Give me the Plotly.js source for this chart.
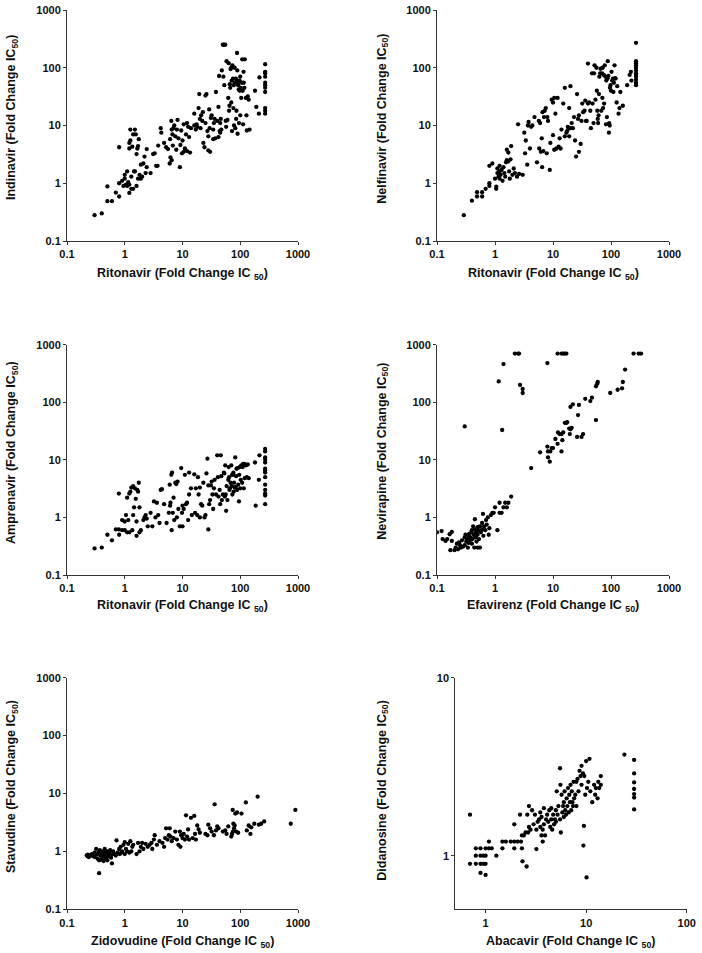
<!DOCTYPE html>
<html>
<head>
<meta charset="utf-8">
<script src="https://cdn.plot.ly/plotly-3.0.1.min.js"></script>
<style>html,body{margin:0;padding:0;background:#fff;}#chart{width:702px;height:953px;}</style>
</head>
<body>
<div id="chart"></div>
<script>
// ---- DATA (fold change IC50 pairs: [x, y]) ----
const ritonavirIndinavir = [
[0.3,0.28],[0.4,0.3],[0.5,0.88],[0.5,0.49],[0.6,0.49],[0.7,0.69],[0.8,0.59],[0.8,1.0],[0.8,4.2],[0.9,1.1],[0.95,0.9],
[1.0,1.2],[1.0,1.4],[1.05,0.95],[1.1,1.6],[1.1,0.9],[1.15,1.05],[1.2,0.68],[1.2,0.95],[1.2,4.0],[1.2,5.0],[1.25,5.5],[1.25,8.5],[1.3,0.8],[1.3,1.3],[1.35,4.3],[1.4,7.0],[1.4,0.8],[1.45,1.6],[1.5,8.5],[1.5,1.6],[1.55,7.0],[1.6,3.2],[1.6,0.9],[1.65,4.0],[1.7,4.4],[1.7,1.2],[1.75,5.8],[1.8,1.4],[1.9,2.1],[1.9,1.2],[2.0,1.3],[2.1,2.2],[2.2,2.9],[2.3,1.5],[2.4,3.9],[2.4,1.9],
[2.8,1.5],[3.1,3.2],[3.3,3.3],[3.5,2.0],[3.7,2.0],[3.8,4.5],[4.2,9.0],[4.3,7.5],[4.8,5.0],[5.2,4.2],[5.6,3.9],[6.0,2.2],[6.1,5.8],[6.2,2.8],[6.4,12],[6.5,8.5],[6.5,2.5],[6.7,7.0],[6.8,4.5],[7.0,9.0],[7.2,10],[7.5,6.5],[7.8,3.8],[8.0,8.5],[8.2,12.5],[8.5,6.0],[9.0,1.9],[9.2,4.6],[9.5,8.2],[9.8,3.3],[10,5.5],[10.5,10.5],[10.5,3.5],[11,4.0],[11.5,7.0],[12,11],[12,3.6],[12.5,9.5],[13,6.3],[13.5,3.4],[14,9.0],
[16,10],[16,16],[17,8.5],[17.5,10.5],[18,9.5],[19,20],[19.5,35],[20,13],[20.5,9.0],[21,15],[22,12],[22.5,17],[23,5.0],[24,4.2],[25,11],[25,33],[26,35],[27,8.0],[28,6.5],[28,3.7],[29,19],[29.5,9.0],[30,3.5],[31,13.5],[32,15],[34,8.5],[34,5.8],[35,11],[36,13],[37,6.0],[38,38],[40,12],
[42,21],[42,6.3],[43,72],[44,8.0],[45,7.5],[45,11],[46,13],[47,8.5],[48,90],[50,250],[51,70],[52,250],[53,50],[55,250],[56,12],[57,9.5],[58,130],[60,12.5],[62,30],[63,120],[64,18],[65,22],[66,52],[67,45],[68,95],[70,100],[70,25],[71,60],[72,8.0],[73,110],[75,65],[76,20],[77,50],[78,10],[80,100],[80,55],[82,9.0],[84,65],[85,13],[86,18],[87,60],[88,180],[89,90],[90,7.2],[91,55],[92,50],[94,42],[95,11],[97,60],[98,40],[100,15],[100,70],[102,45],[104,30],[106,55],[108,140],[110,40],[112,10.5],[114,85],[115,55],[118,45],[120,140],[125,30],[128,15],[130,8.2],[135,32],[140,28],[145,8.5],[180,40],[190,21],[210,16],[215,68],
[270,115],[270,85],[270,80],[270,55],[270,50],[270,45],[270,38],[270,20],[270,18],[270,16],[270,70]
];
const ritonavirNelfinavir = [
[0.29,0.28],[0.4,0.5],[0.49,0.7],[0.49,0.59],[0.6,0.7],[0.6,0.59],[0.69,0.8],[0.8,1.0],[0.8,0.9],[0.8,2.0],[0.9,2.2],[1.05,0.87],[1.05,0.8],
[1.0,1.2],[1.1,1.5],[1.1,1.8],[1.15,1.3],[1.2,1.6],[1.2,2.0],[1.2,1.2],[1.25,1.4],[1.3,1.7],[1.35,1.1],[1.4,1.9],[1.45,1.5],[1.5,1.3],[1.55,2.3],[1.6,2.5],[1.6,3.8],[1.7,3.4],[1.7,2.4],[1.75,1.6],[1.8,1.2],[1.85,2.6],[1.9,4.4],[2.0,1.4],[2.1,1.8],[2.2,1.5],[2.4,1.3],[2.5,10.5],[2.6,1.45],[3.0,1.4],
[3.2,7.5],[3.3,3.3],[3.4,5.5],[3.6,2.1],[3.7,10],[3.8,11.5],[4.0,4.0],[4.2,9.5],[4.4,10],[4.8,14],[5.3,2.3],[5.7,12],[5.8,4.0],[6.0,11],[6.2,3.5],[6.4,6.0],[6.5,1.9],[6.6,17],[6.8,3.6],[7.0,14],[7.2,18],[7.5,20],[7.8,3.3],[8.0,14],[8.2,12],[8.8,1.7],[9.0,5.0],[9.5,28],[10,6.8],[10,25],[10.5,3.8],[10.5,30],[11,16],[11.5,4.0],[12,30],[12.5,4.3],[13,6.0],[13.5,4.0],[14,8.5],[15,24],[16,45],[16,6.5],[17,7.5],[17.5,8.0],[18,9.5],[18.5,8.8],[19,6.5],[19,20],[20,48],[20,9.0],[21,11],[22,9.0],[23,14],[24,5.5],[25,2.9],[26,35],[27,13],[28,15],[28,3.5],[30,4.8],[31,12],[32,24],[33,17],[35,18],[36,27],[37,12],[38,12],[40,24],[40,118],[42,25],[44,18],[45,9.0],[47,80],[48,24],[50,11],[51,80],[52,110],[54,28],[56,100],[57,40],[58,18],[59,13],[60,11],[61,15],[62,35],[63,70],[65,80],[66,96],[68,18],[70,80],[71,30],[72,100],[73,20],[75,75],[76,24],[78,110],[80,70],[82,10.5],[83,60],[85,14],[87,65],[88,130],[90,72],[92,7.5],[93,11],[95,10],[96,45],[98,50],[100,40],[102,85],[105,60],[108,65],[110,38],[112,55],[115,110],[118,66],[120,65],[125,25],[128,48],[135,16],[140,20],[145,38],[160,22],[190,50],[210,75],[220,85],[225,60],
[270,270],[270,130],[270,120],[270,110],[270,100],[270,90],[270,80],[270,75],[270,70],[270,62],[270,55],[270,50]
];
const ritonavirAmprenavir = [
[0.3,0.29],[0.4,0.3],[0.5,0.5],[0.6,0.4],[0.7,0.62],[0.79,0.62],[0.79,2.6],[0.8,0.5],[0.9,0.9],[0.9,0.6],
[1.0,0.6],[1.0,0.85],[1.05,1.1],[1.1,0.55],[1.1,2.2],[1.15,0.9],[1.2,2.6],[1.2,0.55],[1.25,2.8],[1.3,3.3],[1.35,0.6],[1.4,1.1],[1.4,3.5],[1.45,1.5],[1.5,3.2],[1.55,2.1],[1.6,0.48],[1.6,0.85],[1.65,3.0],[1.7,2.8],[1.75,4.0],[1.8,1.5],[1.8,0.55],[1.9,0.6],[2.1,0.9],[2.2,1.0],[2.3,1.1],[2.4,0.95],[2.5,0.7],[2.8,1.2],[3.0,0.7],[3.2,1.9],[3.4,1.0],[3.6,1.8],[3.8,1.1],[4.0,0.8],[4.2,3.0],[4.4,3.1],[4.8,1.7],[5.3,0.8],[5.8,1.2],[6.0,3.7],[6.1,1.6],[6.2,1.8],[6.4,5.5],[6.5,0.6],[6.6,6.0],[6.8,1.2],[7.0,2.2],[7.2,0.9],[7.5,4.0],[7.8,3.8],[8.0,1.0],[8.2,4.2],[8.5,1.4],[9.0,0.7],[9.5,7.2],[9.8,1.2],[10,0.7],[10,1.6],[10.5,1.4],[11,5.5],[11.5,1.7],[12,1.8],[12.5,0.9],[13,6.0],[13,2.5],[14,3.2],[14.5,1.1],[16,5.6],[16.5,1.2],[17,3.2],[18,1.1],[18.5,5.0],[19,2.5],[20,1.0],[20,3.3],[21,1.7],[22,1.6],[23,4.0],[24,1.0],[25,1.1],[26,5.8],[27,10.5],[28,3.6],[28,0.62],[29,1.7],[30,2.0],[31,3.6],[32,4.2],[33,2.5],[34,1.4],[35,3.2],[36,4.5],[38,2.5],[40,12],[41,5.0],[42,2.3],[44,3.0],[45,1.7],[46,12],[47,5.2],[48,2.0],[50,2.5],[52,6.0],[53,5.8],[54,2.3],[55,8.0],[56,2.5],[57,1.3],[58,3.5],[60,2.0],[62,4.5],[63,7.5],[64,5.0],[65,3.0],[66,3.2],[68,4.0],[70,8.0],[71,3.5],[72,5.5],[73,2.5],[75,5.5],[76,6.0],[77,2.8],[78,4.0],[80,3.3],[82,11],[84,3.4],[85,5.2],[86,7.0],[88,3.0],[90,7.2],[92,3.7],[95,1.9],[96,5.5],[98,7.5],[100,3.2],[102,4.5],[104,8.0],[108,4.0],[110,7.5],[112,8.5],[115,3.2],[118,8.5],[120,4.8],[125,8.0],[130,5.0],[135,8.3],[140,4.8],[180,9.0],[185,1.6],[210,4.5],[215,12],
[270,15.5],[270,14],[270,11],[270,10],[270,9.0],[270,7.0],[270,6.5],[270,6.0],[270,5.0],[270,3.7],[270,3.0],[270,2.6],[270,2.4],[270,1.7]
];
const efavirenzNevirapine = [
[0.1,0.55],[0.12,0.58],[0.125,0.42],[0.14,0.39],[0.15,0.42],[0.17,0.27],[0.165,0.51],[0.18,0.56],[0.18,0.39],
[0.2,0.27],[0.21,0.3],[0.22,0.35],[0.23,0.28],[0.24,0.37],[0.25,0.33],[0.26,0.3],[0.27,0.4],[0.28,0.31],[0.3,0.33],[0.3,0.45],[0.31,0.5],[0.32,0.38],[0.33,0.42],[0.34,0.3],[0.35,0.48],[0.35,0.36],[0.36,0.52],[0.37,0.4],[0.38,0.45],[0.39,0.55],[0.4,0.35],[0.4,0.6],[0.41,0.42],[0.42,0.7],[0.43,0.5],[0.44,0.3],[0.45,0.93],[0.45,0.62],[0.46,0.45],[0.47,0.55],[0.48,0.38],[0.5,0.5],[0.5,0.68],[0.5,0.3],[0.52,0.6],[0.53,0.42],[0.55,0.7],[0.55,0.3],[0.57,0.55],[0.6,0.8],[0.6,0.62],[0.62,1.15],[0.63,0.48],[0.65,0.7],[0.68,0.6],[0.7,0.9],[0.72,0.75],[0.75,1.0],[0.78,0.5],[0.8,0.65],[0.85,1.1],[0.9,1.2],[0.95,1.2],[1.0,1.5],[1.1,0.6],[1.2,1.8],[1.2,1.2],[1.3,1.2],[1.4,1.5],[1.5,1.8],[1.6,1.5],[1.7,1.8],[1.9,2.3],
[0.3,38],[1.16,230],[1.4,460],[1.33,33],[2.2,700],[2.5,700],[2.6,700],[2.7,200],[3.0,170],[3.0,145],[8,480],[12,700],[14,700],[15,700],[16,700],[17,700],
[4.2,7.2],[6.0,13.5],[8,17],[8.2,14],[8.2,11],[8.8,9.3],[9,14],[9.5,16],[10,16],[11,23],[12,19],[12.2,30],[13,28],[14,28],[15,30],[14,14],[14.5,22],[16,44],[17,44],[17.5,45],[19,35],[19.5,28],[20,34],[21,36],[20,83],[22,92],[28,90],[27,60],[26,25],[31,25],[33,28],[36,115],[44,105],[47,120],[55,49],[55,190],[58,210],[59,225],[97,145],[130,165],[155,175],[160,225],[175,370],[245,700],[300,700],[330,700]
];
const zidovudineStavudine = [
[0.22,0.85],[0.23,0.82],[0.23,0.88],[0.24,0.8],[0.25,0.85],[0.27,0.9],[0.28,0.83],[0.3,0.95],[0.3,0.8],[0.32,1.1],[0.33,0.88],[0.34,0.75],[0.35,0.95],[0.36,0.7],[0.36,0.42],[0.37,1.05],[0.38,0.85],[0.39,0.72],[0.4,0.9],[0.41,1.0],[0.42,0.8],[0.43,0.68],[0.44,0.95],[0.45,1.1],[0.46,0.85],[0.47,0.75],[0.48,0.9],[0.5,1.0],[0.5,0.7],[0.52,0.82],[0.54,0.92],[0.56,1.05],[0.58,0.78],[0.6,0.62],[0.6,0.88],[0.63,1.0],[0.66,0.9],[0.7,0.85],[0.72,1.55],[0.75,0.95],[0.8,1.1],[0.82,0.9],[0.85,1.2],[0.88,0.95],[0.9,1.0],[0.95,1.3],[1.0,0.9],[1.0,1.45],[1.05,1.1],[1.1,1.0],[1.15,1.35],[1.2,0.95],[1.25,1.5],[1.3,1.0],[1.35,1.2],[1.4,1.3],[1.6,0.9],[1.7,1.4],[1.8,1.0],[1.9,1.2],[2.0,1.4],[2.1,1.1],[2.3,1.35],[2.5,1.2],[2.7,1.3],[2.9,1.4],[3.0,1.1],[3.2,1.6],[3.3,1.9],[3.6,1.3],[4.0,1.5],[4.5,1.4],[4.8,1.2],[5.0,1.7],[5.2,2.5],[5.5,1.6],[5.8,1.9],[6.0,2.5],[6.2,1.8],[6.5,1.5],[7.0,1.7],[7.5,2.2],[8.0,1.6],[8.5,1.3],[9.0,2.2],[9.2,1.2],[9.5,1.9],[10,1.7],[10.5,2.0],[11,1.6],[11.5,4.2],[12,1.8],[12.5,2.4],[13,1.6],[14,3.8],[15,1.7],[16,4.1],[16.5,2.0],[17,1.6],[18,2.8],[19,2.4],[20,2.1],[25,2.0],[27,1.9],[28,2.9],[30,2.5],[32,2.2],[35,1.9],[36,6.5],[38,2.3],[40,2.7],[42,2.5],[50,2.2],[55,2.3],[58,2.0],[62,2.7],[70,1.8],[72,2.0],[74,5.2],[75,2.2],[76,3.0],[78,2.5],[80,2.8],[82,4.5],[85,2.2],[88,4.7],[92,2.1],[105,4.5],[125,7.0],[130,2.3],[140,2.8],[150,2.0],[155,2.6],[175,3.0],[200,8.8],[210,2.9],[230,3.0],[260,3.3],[750,3.0],[900,5.2]
];
const abacavirDidanosine = [
[0.7,0.9],[0.7,1.7],[0.8,1.1],[0.8,1.0],[0.8,0.9],[0.89,1.1],[0.89,1.0],[0.89,0.9],[0.89,0.8],[0.95,1.0],[0.95,0.9],[1.0,1.1],[1.0,1.0],[1.0,0.9],[1.0,0.78],[1.08,1.2],[1.08,1.1],[1.15,1.1],[1.28,1.0],
[1.47,1.2],[1.47,1.1],[1.59,1.2],[1.78,1.2],[1.93,1.5],[1.93,1.2],[1.93,1.1],[2.08,1.2],[2.2,1.7],[2.25,1.2],[2.3,1.1],[2.3,1.3],[2.33,0.93],[2.4,1.3],[2.5,1.35],[2.56,0.87],[2.6,1.7],[2.65,1.35],[2.7,1.45],[2.7,1.9],[2.8,1.4],[2.9,1.8],[3.0,1.5],[3.1,1.7],[3.2,1.09],[3.2,1.4],[3.3,1.55],[3.4,1.6],[3.5,1.45],[3.5,1.75],[3.6,1.3],[3.6,1.65],[3.7,1.4],[3.7,1.2],[3.8,1.85],[3.8,1.5],[3.9,1.3],[4.0,1.6],[4.1,1.7],[4.2,1.55],[4.3,1.8],[4.4,1.45],[4.5,1.6],[4.5,1.85],[4.6,1.4],[4.7,1.7],[4.8,1.5],[4.9,1.6],[5.0,1.8],[5.0,1.55],[5.1,2.3],[5.2,1.7],[5.3,1.9],[5.55,2.5],[5.5,1.6],[5.5,3.1],[5.6,1.35],[5.7,2.2],[5.8,1.75],[5.9,1.9],[6.0,2.0],[6.0,1.65],[6.1,2.3],[6.2,1.8],[6.3,1.7],[6.4,2.1],[6.5,1.9],[6.6,2.4],[6.7,1.75],[6.8,2.2],[6.9,2.0],[7.0,2.5],[7.1,1.8],[7.2,2.3],[7.3,2.0],[7.4,1.9],[7.5,2.6],[7.6,2.1],[7.8,2.2],[8.0,2.6],[8.0,1.9],[8.2,2.7],[8.4,2.3],[8.6,3.0],[8.8,2.8],[9.0,3.2],[9.0,2.5],[9.4,1.14],[9.3,2.9],[9.5,1.47],[9.6,2.8],[9.8,2.2],[10,3.4],[10.1,0.755],[10.2,2.4],[10.5,2.6],[10.8,3.5],[11,2.3],[11.5,2.0],[12,2.5],[12.3,2.2],[12.5,2.4],[13,2.1],[13.2,2.6],[13.5,2.4],[14,2.8],[14,2.5],
[24,3.7],[30,1.82],[30,2.12],[30,2.22],[30,2.37],[30,2.58],[30,2.9],[30,3.45]
];
const panelTitlesX = ['Ritonavir','Ritonavir','Ritonavir','Efavirenz','Zidovudine','Abacavir'];
const panelTitlesY = ['Indinavir','Nelfinavir','Amprenavir','Nevirapine','Stavudine','Didanosine'];
const logTicks = [0.1, 1, 10, 100, 1000];
const logTickText = ['0.1', '1', '10', '100', '1000'];
const abacavirTicks = [1, 10, 100];
const abacavirTickText = ['1', '10', '100'];
const didanosineTicks = [1, 10];
const didanosineTickText = ['1', '10'];

// ---- LAYOUT ----
const datasets = [ritonavirIndinavir, ritonavirNelfinavir, ritonavirAmprenavir, efavirenzNevirapine, zidovudineStavudine, abacavirDidanosine];
const W = 702, H = 953;
const boxes = [ // [left, right, top, bottom] in px
  [67, 298, 10, 241],
  [437, 669, 10, 241],
  [67, 298, 344.7, 575],
  [437, 669, 344.7, 575],
  [67, 298, 677.7, 909.3],
  [455.3, 686.7, 677.7, 909.3]
];
const titleFont = {family: 'Liberation Sans, Arial, sans-serif', size: 12.5, color: '#111', weight: 'bold'};
const tickFont = {family: 'Liberation Sans, Arial, sans-serif', size: 11, color: '#111', weight: 'bold'};

const traces = [];
const layout = {
  width: W, height: H,
  margin: {l: 0, r: 0, t: 0, b: 0},
  paper_bgcolor: '#fff', plot_bgcolor: '#fff',
  showlegend: false,
  annotations: []
};

datasets.forEach((d, i) => {
  const n = i + 1;
  const sfx = n === 1 ? '' : String(n);
  traces.push({
    type: 'scatter', mode: 'markers',
    x: d.map(p => p[0]), y: d.map(p => p[1]),
    xaxis: 'x' + sfx, yaxis: 'y' + sfx,
    marker: {color: '#000', size: 4.3},
    hoverinfo: 'x+y'
  });
  const b = boxes[i];
  const isLast = i === 5;
  const common = {
    type: 'log', showline: true, linecolor: '#333', linewidth: 1,
    showgrid: false, zeroline: false, ticks: 'outside', ticklen: 3, tickwidth: 1, tickcolor: '#333',
    tickmode: 'array', tickfont: tickFont, fixedrange: true
  };
  layout['xaxis' + sfx] = Object.assign({}, common, {
    domain: [b[0] / W, b[1] / W],
    anchor: 'y' + sfx,
    range: isLast ? [Math.log10(0.5), 2] : [-1, 3],
    tickvals: isLast ? abacavirTicks : logTicks,
    ticktext: isLast ? abacavirTickText : logTickText
  });
  layout['yaxis' + sfx] = Object.assign({}, common, {
    domain: [1 - b[3] / H, 1 - b[2] / H],
    anchor: 'x' + sfx,
    range: isLast ? [Math.log10(0.5), 1] : [-1, 3],
    tickvals: isLast ? didanosineTicks : logTicks,
    ticktext: isLast ? didanosineTickText : logTickText
  });
  // x title
  const xTitleY = [274, 274, 606, 606, 941.7, 941.7][i];
  layout.annotations.push({
    xref: 'paper', yref: 'paper',
    x: (b[0] + b[1]) / 2 / W, y: 1 - xTitleY / H,
    xanchor: 'center', yanchor: 'middle', showarrow: false,
    text: panelTitlesX[i] + ' (Fold Change IC <sub>50</sub>)',
    font: titleFont
  });
  // y title
  const yTitleX = [12, 382.7, 12, 382.7, 12, 382.7][i];
  const yTitleY = [118, 119, 453, 451, 787, 790][i];
  layout.annotations.push({
    xref: 'paper', yref: 'paper',
    x: yTitleX / W, y: 1 - yTitleY / H,
    xanchor: 'center', yanchor: 'middle', showarrow: false, textangle: -90,
    text: panelTitlesY[i] + ' (Fold Change IC<sub>50</sub>)',
    font: titleFont
  });
});

Plotly.newPlot('chart', traces, layout, {staticPlot: true, displayModeBar: false});
</script>
</body>
</html>
